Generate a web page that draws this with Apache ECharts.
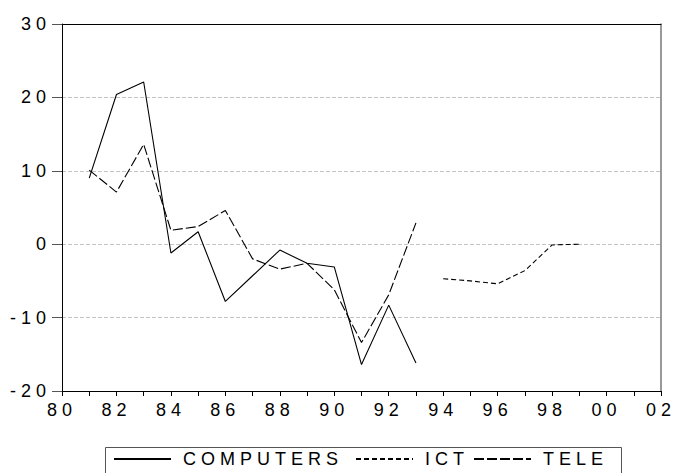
<!DOCTYPE html>
<html><head><meta charset="utf-8">
<script src="https://cdn.jsdelivr.net/npm/echarts@6/dist/echarts.min.js"></script>
<style>
html,body{margin:0;padding:0;background:#fff}
#c{width:675px;height:473px;letter-spacing:5px}
</style></head><body><div id="c"></div>
<script>
// ---- data ----
const yearsA = [1981,1982,1983,1984,1985,1986,1987,1988,1989,1990,1991,1992,1993];
const computers = [9.0,20.4,22.1,-1.2,1.7,-7.8,-4.3,-0.8,-2.6,-3.1,-16.4,-8.3,-16.2];
const tele = [10.1,7.1,13.6,1.9,2.4,4.6,-2.0,-3.4,-2.6,-6.2,-13.4,-6.9,2.9];
const yearsB = [1994,1995,1996,1997,1998,1999];
const ict = [-4.7,-5.0,-5.4,-3.6,-0.1,0.0];
const seriesNames = ['COMPUTERS','ICT','TELE'];
const yMin = -20, yMax = 30, yStep = 10;
const xMin = 1980, xMax = 2002, xStep = 2;

const FONT = "'Liberation Sans', Arial, sans-serif";
const pair = (xs, ys) => xs.map((x, i) => [x, ys[i]]);

const chart = echarts.init(document.getElementById('c'), null, {renderer: 'svg'});
const legendBase = {
  orient: 'horizontal', top: 450, padding: 0, itemWidth: 57, itemHeight: 14,
  itemStyle: {opacity: 0},
  textStyle: {color: '#000', fontSize: 18, fontFamily: FONT, padding: [0, 0, 0, 7]},
  selectedMode: false
};
chart.setOption({
  animation: false,
  backgroundColor: '#fff',
  grid: {left: 62, right: 14, top: 24, bottom: 82},
  legend: [
    Object.assign({}, legendBase, {left: 113, data: [seriesNames[0]]}),
    Object.assign({}, legendBase, {left: 355, data: [seriesNames[1]]}),
    Object.assign({}, legendBase, {left: 473, data: [seriesNames[2]]})
  ],
  graphic: [{
    type: 'rect', left: 103, top: 445, silent: true,
    shape: {width: 516, height: 40},
    style: {fill: 'none', stroke: '#555', lineWidth: 1}
  }],
  xAxis: [{
    type: 'value', min: xMin, max: xMax, interval: xStep,
    axisLine: {onZero: false, lineStyle: {color: '#000', width: 1}},
    axisTick: {length: 5, lineStyle: {color: '#000'}},
    minorTick: {show: true, splitNumber: 2, length: 5, lineStyle: {color: '#000'}},
    axisLabel: {color: '#000', fontSize: 18, fontFamily: FONT, margin: 10,
      formatter: v => String(v % 100).padStart(2, '0')},
    splitLine: {show: false}
  }, {
    type: 'value', min: xMin, max: xMax, position: 'top',
    axisLine: {onZero: false, lineStyle: {color: '#000', width: 1}},
    axisTick: {show: false}, axisLabel: {show: false}, splitLine: {show: false}
  }],
  yAxis: [{
    type: 'value', min: yMin, max: yMax, interval: yStep,
    axisLine: {show: true, onZero: false, lineStyle: {color: '#000', width: 1}},
    axisTick: {show: true, length: 10, lineStyle: {color: '#555'}},
    axisLabel: {color: '#000', fontSize: 18, fontFamily: FONT, margin: 11},
    splitLine: {show: true, showMinLine: false, showMaxLine: false,
      lineStyle: {color: '#c4c4c4', type: [4, 2], width: 1}}
  }, {
    type: 'value', min: yMin, max: yMax, position: 'right',
    axisLine: {show: true, onZero: false, lineStyle: {color: '#777', width: 1.5}},
    axisTick: {show: false}, axisLabel: {show: false}, splitLine: {show: false}
  }],
  series: [
    {name: seriesNames[0], type: 'line', data: pair(yearsA, computers), showSymbol: false, symbol: 'none',
      lineStyle: {color: '#000', width: 1.1, type: 'solid'}, itemStyle: {color: '#000'}},
    {name: seriesNames[1], type: 'line', data: pair(yearsB, ict), showSymbol: false, symbol: 'none',
      lineStyle: {color: '#000', width: 1.1, type: [5, 3]}, itemStyle: {color: '#000'}},
    {name: seriesNames[2], type: 'line', data: pair(yearsA, tele), showSymbol: false, symbol: 'none',
      lineStyle: {color: '#000', width: 1.1, type: [10, 3]}, itemStyle: {color: '#000'}}
  ]
});
</script></body></html>
